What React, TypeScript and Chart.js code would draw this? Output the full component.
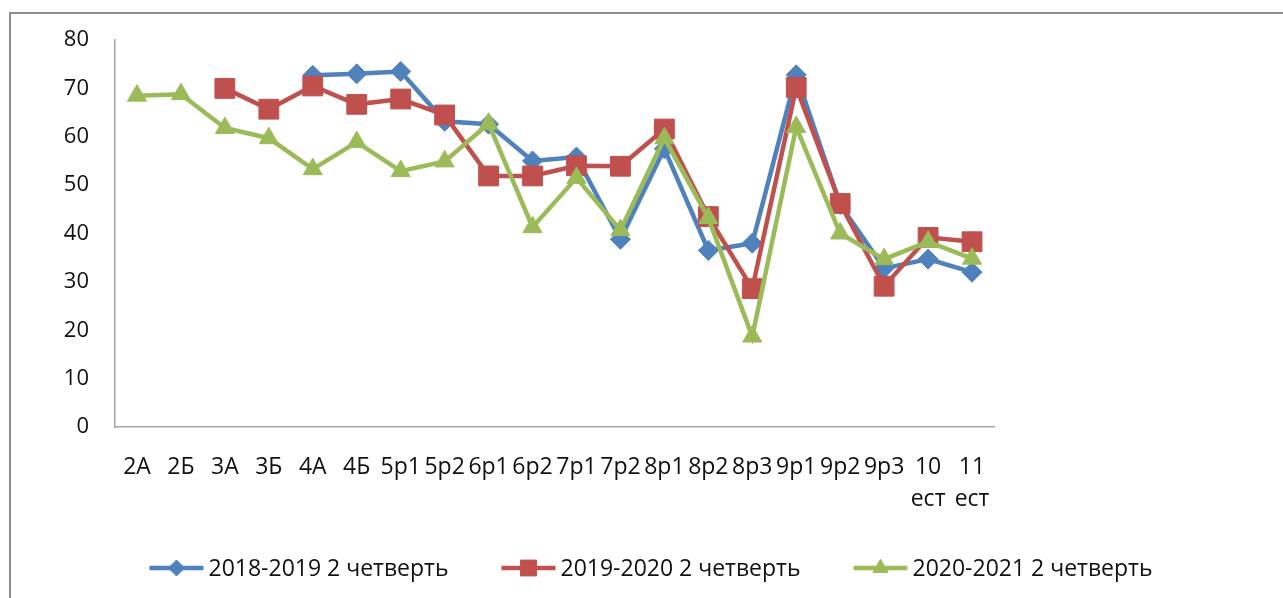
import React, { useEffect, useRef } from 'react';
import { Chart, registerables } from 'chart.js';
import { drawPoint } from 'chart.js/helpers';

Chart.register(...registerables);

const categories = ['2А', '2Б', '3А', '3Б', '4А', '4Б', '5р1', '5р2', '6р1', '6р2', '7р1', '7р2', '8р1', '8р2', '8р3', '9р1', '9р2', '9р3', '10 ест', '11 ест'];

const series2018 = [null, null, null, null, 72.7, 73.0, 73.5, 63.2, 62.6, 55.0, 55.8, 38.8, 57.5, 36.5, 38.0, 72.8, 46.0, 32.8, 34.7, 32.0];
const series2019 = [null, null, 70.0, 65.7, 70.5, 66.7, 67.8, 64.5, 51.9, 51.9, 54.0, 53.9, 61.6, 43.5, 28.6, 70.2, 46.2, 29.1, 39.2, 38.3];
const series2020 = [68.5, 68.8, 61.8, 59.7, 53.3, 58.9, 52.9, 54.9, 62.7, 41.3, 51.5, 40.7, 59.7, 43.2, 18.7, 62.0, 40.0, 34.7, 38.3, 34.8];

const seriesLabels = ['2018-2019 2 четверть', '2019-2020 2 четверть', '2020-2021 2 четверть'];
const seriesColors = ['#4F81BD', '#C0504D', '#9BBB59'];
const seriesStyles = ['rectRot', 'rect', 'triangle'];
const seriesRadius = [10, 14, 11];

const yTicks = { min: 0, max: 80, step: 10 };

const FONT = '"Open Sans", sans-serif';
const FONT_SIZE = 22;
const LABEL_FONT_SIZE = 23;
const TEXT_COLOR = '#111111';

const legendPlugin = {
  id: 'excelLegend',
  afterDraw(chart: any) {
    const ctx = chart.ctx as CanvasRenderingContext2D;
    ctx.save();
    ctx.font = `${LABEL_FONT_SIZE}px ${FONT}`;
    const ds = chart.data.datasets;
    const lineLen = 54;
    const gapText = 5;
    const gapItem = 53;
    const widths = ds.map((d: any) => ctx.measureText(d.label).width);
    const total = widths.reduce((a: number, w: number) => a + lineLen + gapText + w, 0) + gapItem * (ds.length - 1);
    let x = 651 - total / 2;
    const y = 568;
    ds.forEach((d: any, i: number) => {
      ctx.strokeStyle = d.borderColor;
      ctx.lineWidth = 4.5;
      ctx.lineCap = 'butt';
      ctx.beginPath();
      ctx.moveTo(x, y);
      ctx.lineTo(x + lineLen, y);
      ctx.stroke();
      ctx.fillStyle = d.pointBackgroundColor;
      ctx.strokeStyle = d.pointBorderColor;
      ctx.lineWidth = 1;
      drawPoint(ctx, { pointStyle: d.pointStyle, radius: d.pointRadius * 0.8, rotation: 0, borderWidth: 1 } as any, x + lineLen / 2, y);
      ctx.fillStyle = TEXT_COLOR;
      ctx.textBaseline = 'middle';
      ctx.textAlign = 'left';
      ctx.fillText(d.label, x + lineLen + gapText, y + 1);
      x += lineLen + gapText + widths[i] + gapItem;
    });
    ctx.restore();
  },
};

export default function App() {
  const canvasRef = useRef<HTMLCanvasElement>(null);

  useEffect(() => {
    if (!canvasRef.current) return;
    const data = [series2018, series2019, series2020];
    const chart = new Chart(canvasRef.current, {
      type: 'line',
      data: {
        labels: categories.map((c) => (c.includes(' ') ? c.split(' ') : c)),
        datasets: data.map((values, i) => ({
          label: seriesLabels[i],
          data: values,
          borderColor: seriesColors[i],
          backgroundColor: seriesColors[i],
          pointBackgroundColor: seriesColors[i],
          pointBorderColor: seriesColors[i],
          pointStyle: seriesStyles[i] as any,
          pointRadius: seriesRadius[i],
          pointBorderWidth: 1,
          borderWidth: 4.5,
          tension: 0,
          fill: false,
          order: 3 - i,
        })),
      },
      options: {
        animation: false,
        responsive: false,
        maintainAspectRatio: false,
        layout: { padding: { left: 0, top: 40, right: 289, bottom: 0 } },
        plugins: {
          legend: { display: false },
          tooltip: { enabled: false },
        },
        scales: {
          x: {
            offset: true,
            grid: { display: false, drawTicks: false },
            border: { display: true, color: '#A6A6A6', width: 1.5 },
            ticks: {
              autoSkip: false,
              maxRotation: 0,
              minRotation: 0,
              padding: 24,
              color: TEXT_COLOR,
              font: { family: FONT, size: LABEL_FONT_SIZE, lineHeight: 1.4 },
            },
            afterFit(scale: any) {
              scale.height = 171;
            },
          },
          y: {
            min: yTicks.min,
            max: yTicks.max,
            grid: { display: false, drawTicks: false },
            border: { display: true, color: '#A6A6A6', width: 1.5 },
            ticks: {
              stepSize: yTicks.step,
              padding: 26,
              color: TEXT_COLOR,
              font: { family: FONT, size: FONT_SIZE },
            },
            afterFit(scale: any) {
              scale.width = 115;
            },
          },
        },
      },
      plugins: [legendPlugin],
    });
    return () => chart.destroy();
  }, []);

  return (
    <>
      <div
        style={{
          position: 'fixed',
          left: 9,
          top: 12,
          width: 1400,
          height: 700,
          borderTop: '2px solid #8E8E8E',
          borderLeft: '2px solid #8E8E8E',
          boxSizing: 'border-box',
        }}
      />
      <canvas
        ref={canvasRef}
        width={1283}
        height={598}
        style={{ position: 'fixed', left: 0, top: 0, width: 1283, height: 598 }}
      />
    </>
  );
}
